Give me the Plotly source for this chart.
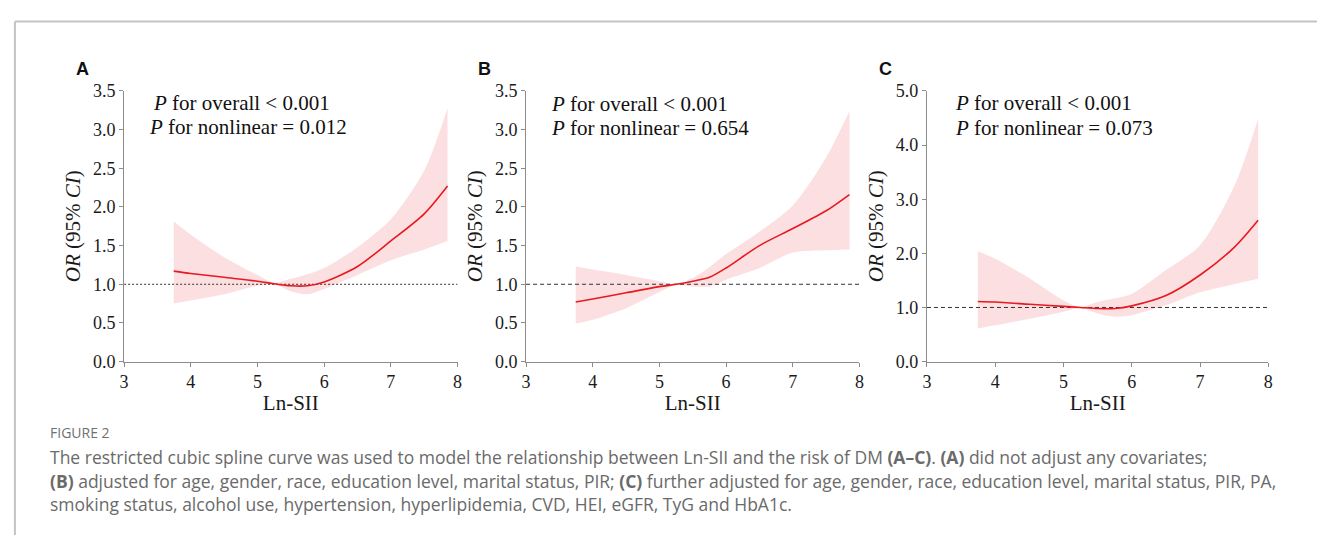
import plotly.graph_objects as go

W, H = 1322, 545

# ---------------- data ----------------
x_pts = [3.745, 4.0, 4.5, 5.0, 5.25, 5.5, 5.75, 6.0, 6.5, 7.0, 7.5, 7.85]

or_A = [1.17, 1.14, 1.09, 1.04, 1.006, 0.98, 0.98, 1.03, 1.23, 1.56, 1.91, 2.27]
up_A = [1.81, 1.64, 1.35, 1.12, 1.02, 1.07, 1.13, 1.21, 1.48, 1.84, 2.47, 3.28]
lo_A = [0.75, 0.79, 0.87, 0.98, 1.0, 0.91, 0.87, 0.94, 1.12, 1.31, 1.45, 1.56]

or_B = [0.77, 0.81, 0.89, 0.97, 1.0, 1.04, 1.09, 1.21, 1.50, 1.72, 1.95, 2.16]
up_B = [1.23, 1.19, 1.12, 1.04, 1.0, 1.08, 1.22, 1.39, 1.68, 2.02, 2.64, 3.24]
lo_B = [0.49, 0.54, 0.69, 0.90, 0.99, 0.97, 0.97, 1.06, 1.21, 1.41, 1.44, 1.45]

or_C = [1.11, 1.10, 1.06, 1.02, 1.0, 0.98, 0.98, 1.03, 1.22, 1.60, 2.11, 2.61]
up_C = [2.04, 1.90, 1.54, 1.13, 1.01, 1.10, 1.17, 1.25, 1.69, 2.15, 3.24, 4.48]
lo_C = [0.61, 0.67, 0.79, 0.92, 0.99, 0.89, 0.83, 0.86, 1.04, 1.28, 1.43, 1.53]

panel_letters = ["A", "B", "C"]
p_overall = ["< 0.001", "< 0.001", "< 0.001"]
p_nonlinear = ["= 0.012", "= 0.654", "= 0.073"]
y_max = [3.5, 3.5, 5.0]
y_dtick = [0.5, 0.5, 1.0]
x_ticks = [3, 4, 5, 6, 7, 8]

caption_head = "FIGURE 2"
caption_lines = [
    "The restricted cubic spline curve was used to model the relationship between Ln-SII and the risk of DM <b>(A–C)</b>. <b>(A)</b> did not adjust any covariates;",
    "<b>(B)</b> adjusted for age, gender, race, education level, marital status, PIR; <b>(C)</b> further adjusted for age, gender, race, education level, marital status, PIR, PA,",
    "smoking status, alcohol use, hypertension, hyperlipidemia, CVD, HEI, eGFR, TyG and HbA1c.",
]

# ---------------- layout helpers ----------------
def px(x):
    return x / W

def py(y):
    return 1 - y / H

panel_x = [(120, 456), (525, 861), (929, 1273)]
panel_y = (84, 365)
ref_style = ["2px,2px", "4px,3px", "4px,3px"]
text_x = [(147, 143), (548, 548), (955, 955)]
text_y = [(97, 121), (98, 123), (97, 122)]

serif = "Liberation Serif, Times New Roman, serif"
RED = "#e8191f"
FILL = "rgba(247,196,200,0.55)"
AX = "#8c8c8c"

fig = go.Figure()
series = [(or_A, up_A, lo_A), (or_B, up_B, lo_B), (or_C, up_C, lo_C)]
annotations = []
shapes = []

for i, (orv, up, lo) in enumerate(series):
    xa = "x" if i == 0 else f"x{i+1}"
    ya = "y" if i == 0 else f"y{i+1}"
    fig.add_trace(go.Scatter(x=x_pts, y=lo, mode="lines", line=dict(width=0, shape="spline", smoothing=0.8),
                             xaxis=xa, yaxis=ya, showlegend=False, hoverinfo="skip"))
    fig.add_trace(go.Scatter(x=x_pts, y=up, mode="lines", line=dict(width=0, shape="spline", smoothing=0.8),
                             fill="tonexty", fillcolor=FILL,
                             xaxis=xa, yaxis=ya, showlegend=False, hoverinfo="skip"))
    fig.add_trace(go.Scatter(x=[3, 8], y=[1, 1], mode="lines",
                             line=dict(color="#333333", width=1, dash=ref_style[i]),
                             xaxis=xa, yaxis=ya, showlegend=False))
    fig.add_trace(go.Scatter(x=x_pts, y=orv, mode="lines",
                             line=dict(color=RED, width=1.6, shape="spline", smoothing=0.8),
                             xaxis=xa, yaxis=ya, showlegend=False))

    x0, x1 = panel_x[i]
    axis_common = dict(showgrid=False, zeroline=False, showline=True, linecolor=AX, linewidth=1,
                       ticks="outside", ticklen=4, tickcolor=AX,
                       tickfont=dict(family=serif, size=18, color="#1a1a1a"))
    xkey = "xaxis" if i == 0 else f"xaxis{i+1}"
    ykey = "yaxis" if i == 0 else f"yaxis{i+1}"
    fig.update_layout({
        xkey: dict(domain=[px(x0), px(x1)], range=[3, 8], tickvals=x_ticks, anchor=ya,
                   title=dict(text="Ln-SII", font=dict(family=serif, size=21, color="#1a1a1a"), standoff=4),
                   **axis_common),
        ykey: dict(domain=[py(panel_y[1]), py(panel_y[0])], range=[0, y_max[i]], dtick=y_dtick[i],
                   tick0=0, tickformat=".1f", anchor=xa,
                   title=dict(text="<i>OR</i> (95% <i>CI</i>)", font=dict(family=serif, size=21, color="#1a1a1a"),
                              standoff=6),
                   **axis_common),
    })

    annotations.append(dict(x=px(x0 - 50), y=py(61), xref="paper", yref="paper", text=f"<b>{panel_letters[i]}</b>",
                            showarrow=False, xanchor="left", yanchor="middle",
                            font=dict(family="Liberation Sans, Arial, sans-serif", size=18, color="#111")))
    annotations.append(dict(x=px(text_x[i][0]), y=py(text_y[i][0]), xref="paper", yref="paper",
                            text=f"<i>P</i> for overall {p_overall[i]}", showarrow=False,
                            xanchor="left", yanchor="middle",
                            font=dict(family=serif, size=21, color="#111")))
    annotations.append(dict(x=px(text_x[i][1]), y=py(text_y[i][1]), xref="paper", yref="paper",
                            text=f"<i>P</i> for nonlinear {p_nonlinear[i]}", showarrow=False,
                            xanchor="left", yanchor="middle",
                            font=dict(family=serif, size=21, color="#111")))

# caption
cap_font = "Open Sans, Lato, sans-serif"
annotations.append(dict(x=px(43), y=py(439), xref="paper", yref="paper", text=caption_head,
                        showarrow=False, xanchor="left", yanchor="middle",
                        font=dict(family=cap_font, size=14, color="#707070")))
for k, line in enumerate(caption_lines):
    annotations.append(dict(x=px(43), y=py(464 + 24.5 * k), xref="paper", yref="paper", text=line,
                            showarrow=False, xanchor="left", yanchor="middle",
                            font=dict(family=cap_font, size=17.5, color="#6a6a6a")))

# frame
shapes.append(dict(type="line", xref="paper", yref="paper", x0=px(10), x1=1, y0=py(12), y1=py(12),
                   line=dict(color="#c4c4c4", width=2)))
shapes.append(dict(type="line", xref="paper", yref="paper", x0=px(10), x1=px(10), y0=py(12), y1=0,
                   line=dict(color="#c4c4c4", width=2)))

fig.update_layout(width=W, height=H, margin=dict(l=0, r=0, t=0, b=0),
                  paper_bgcolor="white", plot_bgcolor="white",
                  annotations=annotations, shapes=shapes, showlegend=False)

fig.write_html("out.html", post_script="document.body.style.margin='0';document.body.style.overflow='hidden';")
